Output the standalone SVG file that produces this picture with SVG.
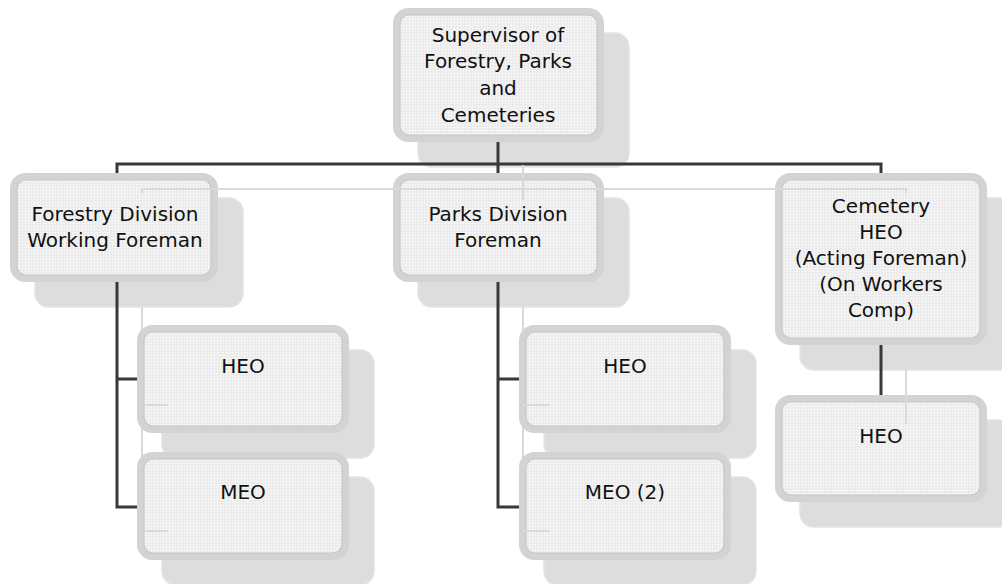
<svg xmlns="http://www.w3.org/2000/svg" width="1002" height="584" viewBox="0 0 1002 584">
<style>
.sh{fill:#dddddd;stroke:#e3e3e3;stroke-width:1.5}
.bx{fill:url(#dots);stroke:#d3d3d3;stroke-width:7}
.in{fill:none;stroke:#c7c7c7;stroke-width:1.2}
.dk{stroke:#383838;stroke-width:3;fill:none}
.lt{stroke:#d9d9d9;stroke-width:2;fill:none}
text{font-family:"DejaVu Sans","Liberation Sans",sans-serif;font-size:20px;fill:#111;text-anchor:middle}
</style>
<defs>
<pattern id="dots" width="3" height="3" patternUnits="userSpaceOnUse">
<rect width="3" height="3" fill="#e6e6e6"/>
<rect x="0.5" y="0.5" width="2" height="2" fill="#fbfbfb"/>
</pattern>
</defs>
<g id="shadows">
<rect class="sh" x="418" y="33" width="211" height="134" rx="14"/>
<rect class="sh" x="35" y="198" width="208" height="109" rx="14"/>
<rect class="sh" x="418" y="198" width="211" height="109" rx="14"/>
<rect class="sh" x="800" y="198" width="212" height="172" rx="14"/>
<rect class="sh" x="162" y="350" width="212" height="108" rx="14"/>
<rect class="sh" x="162" y="477" width="212" height="108" rx="14"/>
<rect class="sh" x="544" y="350" width="212" height="108" rx="14"/>
<rect class="sh" x="544" y="477" width="212" height="108" rx="14"/>
<rect class="sh" x="800" y="420" width="212" height="107" rx="14"/>
</g>
<g id="connectors-shadow-under">
<path class="lt" d="M142 307V532M523 307V532"/>
</g>
<g id="connectors">
<path class="dk" d="M498 142V164M117 164H881M117 162.5V173M498 164V173M881 162.5V173"/>
<path class="dk" d="M117 282V507H140M117 379H140"/>
<path class="dk" d="M498 282V507H521M498 379H521"/>
<path class="dk" d="M881 345V395"/>
</g>
<g id="n-top">
<rect class="bx" x="396.5" y="11.5" width="204" height="127" rx="12"/>
<rect class="in" x="400" y="15" width="197" height="120" rx="9"/>
<text x="498" y="42">Supervisor of</text>
<text x="498" y="68">Forestry, Parks</text>
<text x="498" y="95">and</text>
<text x="498" y="122">Cemeteries</text>
</g>
<g id="n-forestry">
<rect class="bx" x="13.5" y="176.5" width="201" height="102" rx="12"/>
<rect class="in" x="17" y="180" width="194" height="95" rx="9"/>
<text x="115" y="221">Forestry Division</text>
<text x="115" y="247">Working Foreman</text>
</g>
<g id="n-parks">
<rect class="bx" x="396.5" y="176.5" width="204" height="102" rx="12"/>
<rect class="in" x="400" y="180" width="197" height="95" rx="9"/>
<text x="498" y="221">Parks Division</text>
<text x="498" y="247">Foreman</text>
</g>
<g id="n-cemetery">
<rect class="bx" x="778.5" y="176.5" width="205" height="165" rx="12"/>
<rect class="in" x="782" y="180" width="198" height="158" rx="9"/>
<text x="881" y="213">Cemetery</text>
<text x="881" y="239">HEO</text>
<text x="881" y="265">(Acting Foreman)</text>
<text x="881" y="291">(On Workers</text>
<text x="881" y="317">Comp)</text>
</g>
<g id="n-f-heo">
<rect class="bx" x="140.5" y="328.5" width="205" height="101" rx="12"/>
<rect class="in" x="144" y="332" width="198" height="94" rx="9"/>
<text x="243" y="373">HEO</text>
</g>
<g id="n-f-meo">
<rect class="bx" x="140.5" y="455.5" width="205" height="101" rx="12"/>
<rect class="in" x="144" y="459" width="198" height="94" rx="9"/>
<text x="243" y="499">MEO</text>
</g>
<g id="n-p-heo">
<rect class="bx" x="522.5" y="328.5" width="205" height="101" rx="12"/>
<rect class="in" x="526" y="332" width="198" height="94" rx="9"/>
<text x="625" y="373">HEO</text>
</g>
<g id="n-p-meo">
<rect class="bx" x="522.5" y="455.5" width="205" height="101" rx="12"/>
<rect class="in" x="526" y="459" width="198" height="94" rx="9"/>
<text x="625" y="499">MEO (2)</text>
</g>
<g id="n-c-heo">
<rect class="bx" x="778.5" y="398.5" width="205" height="100" rx="12"/>
<rect class="in" x="782" y="402" width="198" height="93" rx="9"/>
<text x="881" y="443">HEO</text>
</g>
<g id="connectors-shadow">
<path class="lt" d="M523 165V200M142 189H906V193M142 189V193"/>
<path class="lt" d="M142 405H168M142 531H168M523 405H550M523 531H550"/>
<path class="lt" d="M906 370V424"/>
</g>
</svg>
